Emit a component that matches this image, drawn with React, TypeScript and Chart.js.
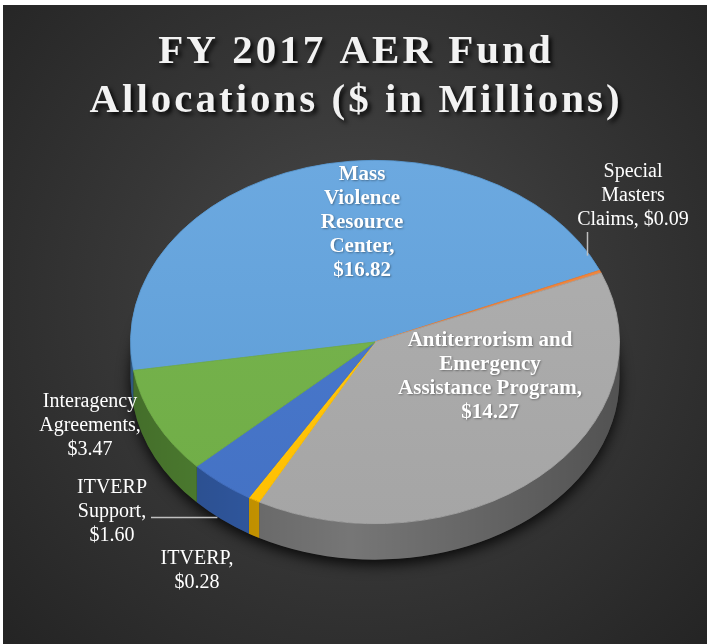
import React, { useEffect, useRef } from 'react';
import { Chart, registerables } from 'chart.js';

Chart.register(...registerables);

// ---- data ----
const categories = [
  'Mass Violence Resource Center',
  'Special Masters Claims',
  'Antiterrorism and Emergency Assistance Program',
  'ITVERP',
  'ITVERP Support',
  'Interagency Agreements',
];
const values = [16.82, 0.09, 14.27, 0.28, 1.6, 3.47];
const labelNameLines = [
  ['Mass', 'Violence', 'Resource', 'Center,'],
  ['Special', 'Masters', 'Claims,'],
  ['Antiterrorism and', 'Emergency', 'Assistance Program,'],
  ['ITVERP,'],
  ['ITVERP', 'Support,'],
  ['Interagency', 'Agreements,'],
];
const valueOnSameLine = [false, true, false, false, false, false];
const titleLines = ['FY 2017 AER Fund', 'Allocations ($ in Millions)'];

// ---- style ----
const FAMILY = '"Liberation Serif", Tinos, "Times New Roman", serif';
const topColors = ['#5B9BD5', '#ED7D31', '#A5A5A5', '#FFC000', '#4472C4', '#70AD47'];
const topColorsLight = ['#6CA9E0', '#F08A45', '#B0B0B0', '#FFC81A', '#4A7AD0', '#78B54E'];
const sideColors = ['#3F74A8', '#B55E22', '#767676', '#D9A200', '#3561B0', '#5A9238'];
const TILT = 0.743;
const DEPTH = 36;
const W = 707;
const H = 644;
// label layout relative to pie centre
const labelLayout = [
  { dx: -13, dy: -119, bold: true, leader: '' },
  { dx: 258, dy: -146, bold: false, leader: 'up' },
  { dx: 115, dy: 35, bold: true, leader: '' },
  { dx: -178, dy: 229, bold: false, leader: '' },
  { dx: -263, dy: 170, bold: false, leader: 'right' },
  { dx: -285, dy: 84, bold: false, leader: '' },
];

function buildLabel(i: number): string[] {
  const lines = labelNameLines[i].slice();
  const v = '$' + values[i].toFixed(2);
  if (valueOnSameLine[i]) lines[lines.length - 1] = lines[lines.length - 1] + ' ' + v;
  else lines.push(v);
  return lines;
}

const pie3dPlugin = {
  id: 'pie3d',
  beforeDraw(chart: any) {
    const ctx = chart.ctx as CanvasRenderingContext2D;
    ctx.save();
    ctx.fillStyle = '#ffffff';
    ctx.fillRect(0, 0, W, H);
    const g = ctx.createRadialGradient(360, 300, 0, 360, 300, 520);
    g.addColorStop(0, '#4a4a4a');
    g.addColorStop(0.45, '#373737');
    g.addColorStop(1, '#222222');
    ctx.fillStyle = g;
    ctx.fillRect(3, 5, W - 3, H - 5);
    ctx.restore();
  },
  beforeDatasetsDraw(chart: any) {
    const ctx = chart.ctx as CanvasRenderingContext2D;
    const arcs = chart.getDatasetMeta(0).data;
    ctx.save();
    if (!arcs.length) return;
    const { x: cx, y: cy, outerRadius: r } = arcs[0].getProps(['x', 'y', 'outerRadius'], true);
    const ry = r * TILT;
    ctx.save();
    ctx.shadowColor = 'rgba(0,0,0,0.85)';
    ctx.shadowBlur = 14;
    ctx.shadowOffsetY = 5;
    ctx.beginPath();
    ctx.ellipse(cx, cy + DEPTH, r, ry, 0, 0, Math.PI * 2);
    ctx.fillStyle = '#202020';
    ctx.fill();
    ctx.restore();
    const shade = ctx.createLinearGradient(cx - r, 0, cx + r, 0);
    shade.addColorStop(0, 'rgba(0,0,0,0.25)');
    shade.addColorStop(0.45, 'rgba(0,0,0,0.0)');
    shade.addColorStop(1, 'rgba(0,0,0,0.3)');
    arcs.forEach((arc: any, i: number) => {
      const { startAngle, endAngle } = arc.getProps(['startAngle', 'endAngle'], true);
      for (let n = -2; n <= 2; n++) {
        const lo = Math.max(startAngle, 2 * Math.PI * n);
        const hi = Math.min(endAngle, 2 * Math.PI * n + Math.PI);
        if (hi <= lo) continue;
        ctx.beginPath();
        ctx.ellipse(cx, cy, r, ry, 0, lo, hi, false);
        ctx.ellipse(cx, cy + DEPTH, r, ry, 0, hi, lo, true);
        ctx.closePath();
        ctx.fillStyle = sideColors[i];
        ctx.fill();
        ctx.fillStyle = shade;
        ctx.fill();
      }
    });
    ctx.translate(cx, cy);
    ctx.scale(1, TILT);
    ctx.translate(-cx, -cy);
  },
  afterDatasetsDraw(chart: any) {
    chart.ctx.restore();
  },
  afterDraw(chart: any) {
    const ctx = chart.ctx as CanvasRenderingContext2D;
    const arcs = chart.getDatasetMeta(0).data;
    if (!arcs.length) return;
    const { x: cx, y: cy, outerRadius: r } = arcs[0].getProps(['x', 'y', 'outerRadius'], true);
    const ry = r * TILT;
    const lh = 24;
    arcs.forEach((arc: any, i: number) => {
      const lay = labelLayout[i];
      const lines = buildLabel(i);
      const bx = cx + lay.dx;
      const by = cy + lay.dy;
      ctx.save();
      ctx.font = (lay.bold ? 'bold 21px ' : '20px ') + FAMILY;
      ctx.textAlign = 'center';
      ctx.textBaseline = 'middle';
      ctx.fillStyle = '#ffffff';
      if (lay.bold) {
        ctx.shadowColor = 'rgba(0,0,0,0.35)';
        ctx.shadowBlur = 2;
        ctx.shadowOffsetX = 1;
        ctx.shadowOffsetY = 1;
      }
      let maxW = 0;
      lines.forEach((t, j) => {
        const y = by + (j - (lines.length - 1) / 2) * lh;
        ctx.fillText(t, bx, y);
        maxW = Math.max(maxW, ctx.measureText(t).width);
      });
      ctx.restore();
      const { startAngle, endAngle } = arc.getProps(['startAngle', 'endAngle'], true);
      const mid = (startAngle + endAngle) / 2;
      const rimX = cx + r * Math.cos(mid);
      const rimY = cy + ry * Math.sin(mid);
      if (lay.leader) {
        ctx.save();
        ctx.strokeStyle = '#bfbfbf';
        ctx.lineWidth = 1.5;
        ctx.beginPath();
        if (lay.leader === 'up') {
          const x = Math.round(rimX - 13) + 0.5;
          ctx.moveTo(x, by + ((lines.length - 1) / 2) * lh + 12);
          ctx.lineTo(x, rimY - 16);
        } else {
          const y = Math.round(by + 5) + 0.5;
          ctx.moveTo(bx + maxW / 2 + 4, y);
          ctx.lineTo(rimX - 4, y);
        }
        ctx.stroke();
        ctx.restore();
      }
    });
    ctx.save();
    ctx.font = 'bold 41px ' + FAMILY;
    (ctx as any).letterSpacing = '3px';
    ctx.textAlign = 'center';
    ctx.textBaseline = 'alphabetic';
    ctx.fillStyle = '#f2f2f2';
    ctx.shadowColor = 'rgba(0,0,0,0.85)';
    ctx.shadowBlur = 4;
    ctx.shadowOffsetX = 3;
    ctx.shadowOffsetY = 3;
    ctx.fillText(titleLines[0], 356, 63);
    ctx.fillText(titleLines[1], 356, 112);
    ctx.restore();
  },
};

export default function App() {
  const ref = useRef<HTMLCanvasElement | null>(null);
  useEffect(() => {
    document.body.style.margin = '0';
    const canvas = ref.current!;
    const ctx = canvas.getContext('2d')!;
    const top = 97;
    const bottom = 587;
    const fills = topColors.map((c, i) => {
      const g = ctx.createLinearGradient(0, top, 0, bottom);
      g.addColorStop(0, topColorsLight[i]);
      g.addColorStop(1, c);
      return g;
    });
    const chart = new Chart(canvas, {
      type: 'pie',
      data: {
        labels: categories,
        datasets: [
          {
            data: values,
            backgroundColor: fills,
            borderColor: topColors,
            borderWidth: 1,
          },
        ],
      },
      options: {
        animation: false,
        responsive: false,
        events: [],
        rotation: 261,
        layout: { padding: { left: 130, right: 87, top: 97, bottom: 57 } },
        plugins: {
          legend: { display: false },
          tooltip: { enabled: false },
          title: { display: false },
        },
      },
      plugins: [pie3dPlugin],
    });
    return () => chart.destroy();
  }, []);
  return <canvas ref={ref} width={W} height={H} style={{ display: 'block' }} />;
}
